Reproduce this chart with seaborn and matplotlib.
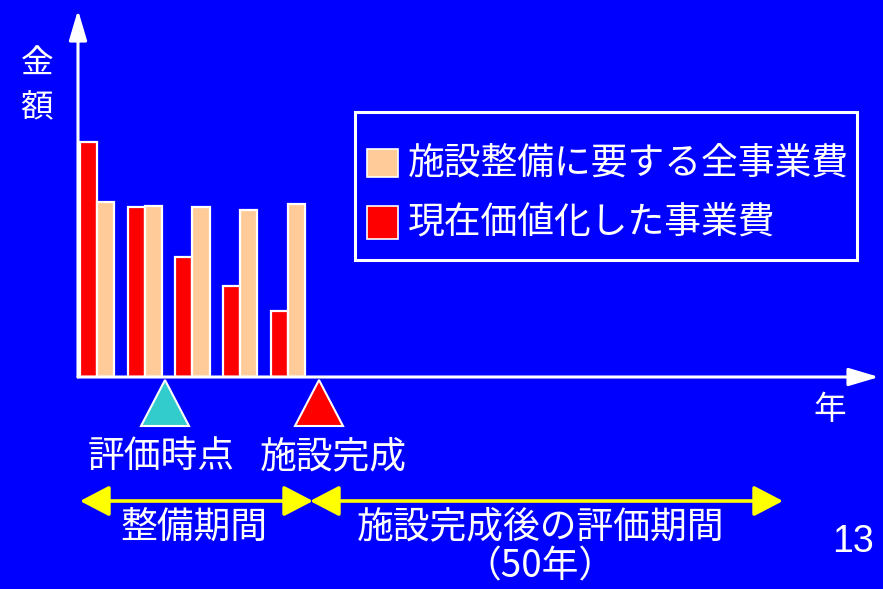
import matplotlib
matplotlib.use("Agg")
import matplotlib.pyplot as plt
from matplotlib.patches import Polygon, Rectangle
import pandas as pd
import seaborn as sns

# Construction-period cost per year (arbitrary amount units)
years = ["1", "2", "3", "4", "5"]
present_value = [235, 170, 120, 91, 66]      # 現在価値化した事業費
total_cost = [175, 171, 170, 167, 173]       # 施設整備に要する全事業費

label_pv = "現在価値化した事業費"
label_total = "施設整備に要する全事業費"

BLUE = "#0000FF"
RED = "#FF0000"
PEACH = "#FFCC99"
CYAN = "#33CCCC"
YELLOW = "#FFFF00"
WHITE = "white"

sns.set_theme(style="white")
plt.rcParams["font.family"] = ["Noto Sans CJK JP", "DejaVu Sans"]

df = pd.DataFrame({
    "year": years * 2,
    "amount": present_value + total_cost,
    "series": [label_pv] * len(years) + [label_total] * len(years),
})

W, H = 883, 589
fig = plt.figure(figsize=(W / 100, H / 100), dpi=100, facecolor=BLUE)

# main chart axes: origin at (78, 377) px, arrow tips at x=879 / y=10 px
ax = fig.add_axes([78 / W, (H - 377) / H, (879 - 78) / W, (377 - 10) / H])
ax.set_facecolor(BLUE)
sns.barplot(data=df, x="year", y="amount", hue="series",
            hue_order=[label_pv, label_total], palette=[RED, PEACH],
            width=0.72, saturation=1, edgecolor=WHITE, linewidth=1.6,
            legend=False, ax=ax, zorder=3)
ax.set_xlim(-0.40, 16.41)
ax.set_ylim(0, 367)
ax.set_xlabel("")
ax.set_ylabel("")
ax.set_xticks([])
ax.set_yticks([])
for s in ax.spines.values():
    s.set_visible(False)

# axis arrows
arrow_kw = dict(arrowstyle="-|>,head_length=18.5,head_width=5.5",
                mutation_scale=1, color=WHITE, lw=2.2,
                shrinkA=0, shrinkB=0)
ax.annotate("", xy=(0, 1), xytext=(0, 0), xycoords="axes fraction",
            textcoords="axes fraction", arrowprops=arrow_kw,
            annotation_clip=False, zorder=5)
ax.annotate("", xy=(1, 0), xytext=(0, 0), xycoords="axes fraction",
            textcoords="axes fraction", arrowprops=arrow_kw,
            annotation_clip=False, zorder=5)

# overlay in pixel coordinates for annotations
ov = fig.add_axes([0, 0, 1, 1], facecolor="none")
ov.set_xlim(0, W)
ov.set_ylim(H, 0)
ov.axis("off")

FS = 26.5
txt = dict(color=WHITE, ha="center", va="center")

# axis titles
ov.text(37, 65, "金", fontsize=23.5, **txt)
ov.text(37, 108, "額", fontsize=23.5, **txt)
ov.text(830, 410, "年", fontsize=23.5, **txt)

# legend box
ov.add_patch(Rectangle((355, 112), 502, 148, fill=False,
                       edgecolor=WHITE, lw=2.2))
ov.add_patch(Rectangle((367, 149), 31, 28, facecolor=PEACH,
                       edgecolor=WHITE, lw=1.2))
ov.add_patch(Rectangle((367, 206), 31, 33, facecolor=RED,
                       edgecolor=WHITE, lw=1.2))
ov.text(408, 163, label_total, fontsize=FS, color=WHITE,
        ha="left", va="center")
ov.text(408, 223, label_pv, fontsize=FS, color=WHITE,
        ha="left", va="center")

# evaluation point / completion markers
ov.add_patch(Polygon([(141, 426), (189, 426), (165, 380)], closed=True,
                     facecolor=CYAN, edgecolor=WHITE, lw=1.5))
ov.add_patch(Polygon([(295, 426), (343, 426), (319, 380)], closed=True,
                     facecolor=RED, edgecolor=WHITE, lw=1.5))
ov.text(161, 457, "評価時点", fontsize=FS, **txt)
ov.text(333, 457, "施設完成", fontsize=FS, **txt)

# period arrows
period_kw = dict(arrowstyle="<|-|>,head_length=18,head_width=9.4",
                 mutation_scale=1, color=YELLOW, lw=2.6,
                 shrinkA=0, shrinkB=0)
ov.annotate("", xy=(313, 501), xytext=(80, 501), arrowprops=period_kw)
ov.annotate("", xy=(783, 501), xytext=(310, 501), arrowprops=period_kw)
ov.text(194, 527, "整備期間", fontsize=FS, **txt)
ov.text(541, 527, "施設完成後の評価期間", fontsize=FS, **txt)
ov.text(540, 567, "（50年）", fontsize=FS, **txt)

# page number
ov.text(853, 542, "13", fontsize=27, color=WHITE, ha="center",
        va="center", family=["Liberation Sans", "DejaVu Sans"])

fig.savefig("out.png", dpi=100, facecolor=BLUE)
